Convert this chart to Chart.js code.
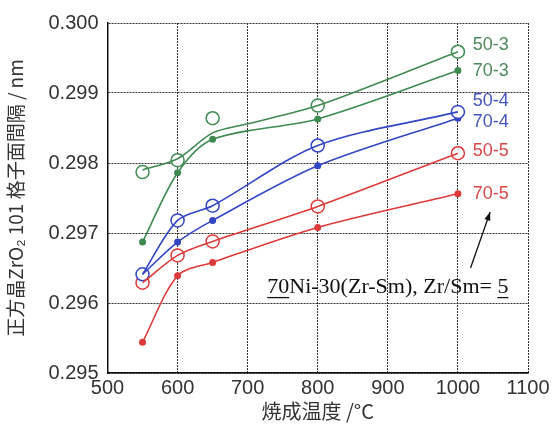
<!DOCTYPE html>
<html>
<head>
<meta charset="utf-8">
<script src="https://cdn.jsdelivr.net/npm/chart.js@4.4.1/dist/chart.umd.min.js"></script>
<style>
  html, body { margin: 0; padding: 0; background: #fff; }
  #wrap { width: 559px; height: 432px; }
</style>
</head>
<body>
<div id="wrap"><canvas id="latticeChart"></canvas></div>
<script>
// Firing temperature (°C)
const temps = [550, 600, 650, 800, 1000];

// ZrO2 (101) lattice spacing / nm
const s50_3 = [0.29787, 0.29804, 0.29864, 0.29882, 0.29959];
const s70_3 = [0.29687, 0.29786, 0.29834, 0.29863, 0.29932];
const s50_4 = [0.29641, 0.29718, 0.29739, 0.29825, 0.29873];
const s70_4 = [0.29641, 0.29687, 0.29718, 0.29796, 0.29864];
const s50_5 = [0.29629, 0.29668, 0.29688, 0.29738, 0.29814];
const s70_5 = [0.29544, 0.29639, 0.29658, 0.29708, 0.29756];

// 50-3 curve does not go through its 650 point
const fit50_3Temps = [550, 600, 650, 700, 800, 1000];
const fit50_3 = [0.29790, 0.29806, 0.29843, 0.29856, 0.29882, 0.29959];

const xTicks = [500, 600, 700, 800, 900, 1000, 1100];
const yTicks = [0.295, 0.296, 0.297, 0.298, 0.299, 0.300];

const green = '#3f8a52';
const blue = '#3346c4';
const red = '#dd3a3a';

const seriesLabels = [
    { text: '50-3', color: '#4c8a5c', x: 1021, y: 0.29969 },
    { text: '70-3', color: '#4c8a5c', x: 1021, y: 0.29932 },
    { text: '50-4', color: '#4555c0', x: 1021, y: 0.29888 },
    { text: '70-4', color: '#4555c0', x: 1021, y: 0.29859 },
    { text: '50-5', color: '#d84848', x: 1021, y: 0.29817 },
    { text: '70-5', color: '#d84848', x: 1021, y: 0.29755 }
];

function pts(xs, ys) {
    return xs.map((x, i) => ({ x: x, y: ys[i] }));
}

function lineSet(xs, ys, color) {
    return {
        data: pts(xs, ys),
        showLine: true,
        borderColor: color,
        borderWidth: 1.6,
        pointRadius: 0,
        fill: false,
        tension: 0.3
    };
}

function openSet(ys, color) {
    return {
        data: pts(temps, ys),
        showLine: false,
        pointRadius: 6.5,
        pointBorderWidth: 1.5,
        pointBorderColor: color,
        pointBackgroundColor: '#fff'
    };
}

function filledSet(ys, color) {
    return {
        data: pts(temps, ys),
        showLine: false,
        pointRadius: 3.5,
        pointBorderWidth: 0,
        pointBackgroundColor: color
    };
}

// text labels, annotation and arrow
const notes = {
    id: 'notes',
    afterDatasetsDraw(chart) {
        const ctx = chart.ctx;
        const xs = chart.scales.x, ys = chart.scales.y;
        ctx.save();
        ctx.font = '18px "Liberation Sans", Arial, sans-serif';
        ctx.textBaseline = 'middle';
        ctx.textAlign = 'left';
        seriesLabels.forEach(l => {
            ctx.fillStyle = l.color;
            ctx.fillText(l.text, xs.getPixelForValue(l.x), ys.getPixelForValue(l.y));
        });

        // composition note
        ctx.font = '22px "Liberation Serif", "Times New Roman", serif';
        ctx.fillStyle = '#111';
        ctx.strokeStyle = '#111';
        let x = xs.getPixelForValue(728);
        const y = ys.getPixelForValue(0.29622);
        const parts = [['70', true], ['Ni-30(Zr-Sm), Zr/Sm= ', false], ['5', true]];
        parts.forEach(p => {
            const w = ctx.measureText(p[0]).width;
            ctx.fillText(p[0], x, y);
            if (p[1]) {
                ctx.lineWidth = 1.3;
                ctx.beginPath();
                ctx.moveTo(x, y + 10);
                ctx.lineTo(x + w, y + 10);
                ctx.stroke();
            }
            x += w;
        });

        // arrow
        const ax0 = xs.getPixelForValue(1018), ay0 = ys.getPixelForValue(0.29650);
        const ax1 = xs.getPixelForValue(1046), ay1 = ys.getPixelForValue(0.29730);
        ctx.lineWidth = 1.3;
        ctx.beginPath();
        ctx.moveTo(ax0, ay0);
        ctx.lineTo(ax1, ay1);
        ctx.stroke();
        const ang = Math.atan2(ay1 - ay0, ax1 - ax0);
        ctx.beginPath();
        ctx.moveTo(ax1, ay1);
        ctx.lineTo(ax1 - 9 * Math.cos(ang - 0.35), ay1 - 9 * Math.sin(ang - 0.35));
        ctx.lineTo(ax1 - 9 * Math.cos(ang + 0.35), ay1 - 9 * Math.sin(ang + 0.35));
        ctx.closePath();
        ctx.fill();
        ctx.restore();
    }
};

const ctx = document.getElementById('latticeChart').getContext('2d');
const latticeChart = new Chart(ctx, {
    type: 'scatter',
    data: {
        datasets: [
            lineSet(fit50_3Temps, fit50_3, green),
            lineSet(temps, s70_3, green),
            lineSet(temps, s50_4, blue),
            lineSet(temps, s70_4, blue),
            lineSet(temps, s50_5, red),
            lineSet(temps, s70_5, red),
            openSet(s50_3, green),
            filledSet(s70_3, green),
            openSet(s50_4, blue),
            filledSet(s70_4, blue),
            openSet(s50_5, red),
            filledSet(s70_5, red)
        ]
    },
    options: {
        responsive: true,
        maintainAspectRatio: false,
        animation: false,
        layout: { padding: { top: 23, right: 31, left: 0, bottom: 0 } },
        plugins: {
            legend: { display: false },
            tooltip: { enabled: false }
        },
        scales: {
            x: {
                type: 'linear',
                min: 500,
                max: 1100,
                afterBuildTicks: s => { s.ticks = xTicks.map(v => ({ value: v })); },
                afterFit: s => { s.height = 59; },
                ticks: {
                    color: '#333',
                    font: { family: '"Liberation Sans", Arial, sans-serif', size: 20 },
                    padding: 3,
                    callback: v => String(v)
                },
                grid: {
                    color: '#333',
                    lineWidth: 1,
                    drawTicks: false
                },
                border: { color: '#111', width: 1.5, dash: [2, 1] },
                title: {
                    display: true,
                    text: '焼成温度 /°C',
                    color: '#333',
                    font: { family: '"Noto Sans CJK JP", sans-serif', size: 20 },
                    padding: { top: 0, bottom: 9 }
                }
            },
            y: {
                type: 'linear',
                min: 0.295,
                max: 0.300,
                afterBuildTicks: s => { s.ticks = yTicks.map(v => ({ value: v })); },
                afterFit: s => { s.width = 107.5; },
                ticks: {
                    color: '#333',
                    font: { family: '"Liberation Sans", Arial, sans-serif', size: 20 },
                    padding: 9,
                    callback: v => v.toFixed(3)
                },
                grid: {
                    color: '#333',
                    lineWidth: 1,
                    drawTicks: false
                },
                border: { color: '#111', width: 1.5, dash: [2, 1] },
                title: {
                    display: true,
                    text: '正方晶ZrO₂ 101 格子面間隔 / nm',
                    color: '#333',
                    font: { family: '"Noto Sans CJK JP", sans-serif', size: 19 },
                    padding: { top: 4, bottom: 2 }
                }
            }
        }
    },
    plugins: [notes]
});
</script>
</body>
</html>
